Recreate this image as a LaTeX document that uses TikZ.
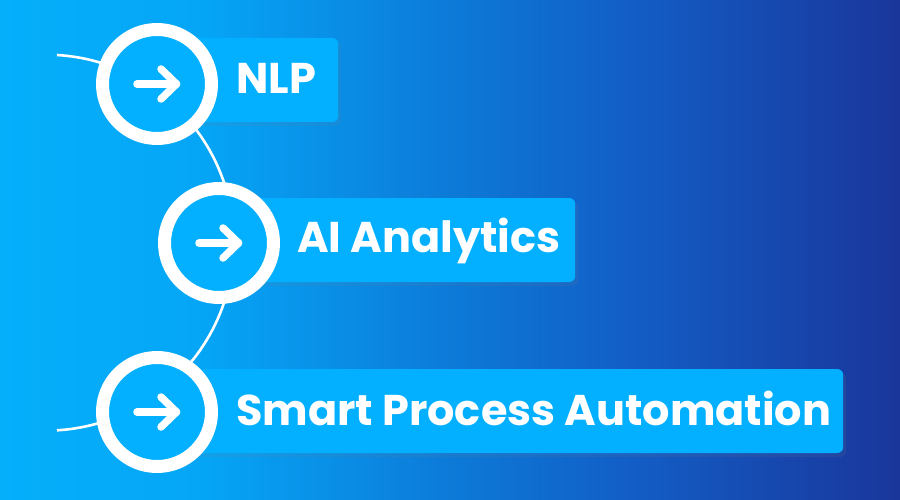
\documentclass[tikz,border=0pt]{standalone}
\usepackage{fontspec}
\setmainfont{Poppins}
\usetikzlibrary{shadows}
\definecolor{bg0}{RGB}{5,175,250}
\definecolor{bg1}{RGB}{5,166,246}
\definecolor{bg2}{RGB}{13,122,216}
\definecolor{bg3}{RGB}{18,94,198}
\definecolor{bg4}{RGB}{26,54,155}
\definecolor{boxblue}{RGB}{2,176,255}
% the path's box covers 25bp..75bp of the shading
\pgfdeclarehorizontalshading{bgshade}{100bp}{color(0bp)=(bg0); color(25bp)=(bg0); color(36bp)=(bg1); color(50bp)=(bg2); color(60bp)=(bg3); color(75bp)=(bg4); color(100bp)=(bg4)}
\tikzset{
  ring/.style={circle, draw=white, line width=13pt, fill=boxblue, minimum size=109pt, inner sep=0pt},
  labelbox/.style={rectangle, rounded corners=6pt, fill=boxblue, minimum height=84pt, inner sep=0pt, anchor=west,
    drop shadow={opacity=0.12, shadow xshift=3pt, shadow yshift=-4pt}},
  labeltext/.style={anchor=base west, inner sep=0pt, text=white, font=\fontsize{43}{48}\selectfont\bfseries},
  arr/.style={draw=white, line width=7.5pt, line cap=round, line join=round},
  link/.style={draw=white, line width=2.6pt}
}
\begin{document}
\begin{tikzpicture}[x=1pt, y=-1pt]
\fill[shading=bgshade] (0,0) rectangle (900,500);
\useasboundingbox (0,0) rectangle (900,500);
% connecting arc
\coordinate (s) at (57,55);
\draw[link] (s) arc[start angle=-86.6, end angle=86.6, radius=188];
% boxes
\node[labelbox, minimum width=181pt] (b1) at (157,80) {};
\node[labelbox, minimum width=356pt] (b2) at (219,240) {};
\node[labelbox, minimum width=686pt] (b3) at (157,411) {};
% circles
\node[ring] (c1) at (157,84) {};
\node[ring] (c2) at (219,243) {};
\node[ring] (c3) at (157,412) {};
% arrows
\foreach \c in {c1,c2,c3}{
  \draw[arr] (\c.center) +(-20,0) -- +(19.5,0);
  \draw[arr] (\c.center) +(4,-15) -- +(19.5,0) -- +(4,15);
}
% texts
\node[labeltext] (t1) at (236,94) {NLP};
\node[labeltext] (t2) at (297,252) {AI Analytics};
\node[labeltext] (t3) at (236,425) {Smart Process Automation};
\end{tikzpicture}
\end{document}
